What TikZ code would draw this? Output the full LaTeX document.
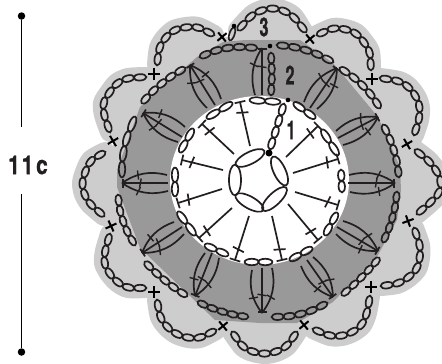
\documentclass[tikz,border=0pt]{standalone}
\usepackage{fontspec}
\usepackage{graphicx}
\setmainfont{TeX Gyre Heros}
\newfontfamily\heavyfont[UprightFont=* Bold,FakeBold=1.2]{TeX Gyre Heros}
\usetikzlibrary{decorations.markings,calc}
\definecolor{ink}{HTML}{231F20}
\definecolor{lobe}{HTML}{CDCDCD}
\definecolor{ringc}{HTML}{999999}
\tikzset{
  inkline/.style={draw=ink,line width=1.7pt},
  teebar/.style={postaction={decorate,decoration={markings,
     mark=at position 0.999 with {\draw[inkline] (0,-5.5pt)--(0,5.5pt);},
     mark=at position 0.76 with {\draw[inkline] (-1pt,-6pt)--(1pt,6pt);}}}},
  tickA/.style={postaction={decorate,decoration={markings,
     mark=at position #1 with {\draw[inkline,line width=1.4pt] (-.8pt,-4.5pt)--(.8pt,4.5pt);}}}},
  tipbar/.style={postaction={decorate,decoration={markings,
     mark=at position 0.015 with {\draw[inkline] (0,-4.5pt)--(0,4.5pt);}}}},
  crossmark/.style={draw=black,line width=2pt},
  numeral/.style={font=\heavyfont\fontsize{26}{26}\selectfont,text=ink,inner sep=0pt},
}
\newcommand\chainlinks[3][3.2]{%
  \pgfmathsetmacro\chStart{0.5/#2}\pgfmathsetmacro\chStep{1/#2}%
  \def\chN{#2}\def\chMinor{#1}%
  \path[decoration={markings,mark=between positions \chStart and 0.999 step \chStep with {%
      \pgfmathsetmacro\chLa{\pgfdecoratedpathlength/(2*\chN)+0.4}%
      \draw[inkline] (0,0) ellipse (\chLa pt and \chMinor pt);}},decorate]
     plot coordinates {#3};}
\newcommand\curvelinks[3][5]{%
  \pgfmathsetmacro\chStart{0.5/#2}\pgfmathsetmacro\chStep{1/#2}%
  \def\chN{#2}\def\chMinor{3.2}%
  \path[rounded corners=#1pt,decoration={markings,mark=between positions \chStart and 0.999 step \chStep with {%
      \pgfmathsetmacro\chLa{\pgfdecoratedpathlength/(2*\chN)+0.4}%
      \draw[inkline,sharp corners] (0,0) ellipse (\chLa pt and \chMinor pt);}},decorate]
     plot coordinates {#3};}
\newcommand\lobeshape[1]{%
  \fill[lobe] plot[smooth] coordinates {#1} -- (259.5,180.5) -- cycle;
  \draw[lobe,line width=20pt,line cap=round,line join=round] plot[smooth] coordinates {#1};}
\newcommand\teest[4]{\path[inkline,teebar] (#1,#2)--(#3,#4);}
% tip, ccw base, centre base, cw base
\newcommand\vgroup[8]{%
  \path[inkline,tipbar,tickA=.4] (#1,#2)--(#5,#6);
  \path[inkline,tickA=.38] (#1,#2) to[bend right=24] (#3,#4);
  \path[inkline,tickA=.38] (#1,#2) to[bend left=24] (#7,#8);}
\newcommand\tiemark[3]{\draw[crossmark,rotate around={#3:(#1,#2)}] (#1-6,#2)--(#1+6,#2) (#1,#2-6)--(#1,#2+6);}
\begin{document}
\begin{tikzpicture}[x=1pt,y=-1pt]
\useasboundingbox (0,0) rectangle (442,364);
% light lobes
\lobeshape{(238,30) (252,15) (262,10) (273,8) (285,11) (294,17) (304,33)}
\lobeshape{(317,35) (333,28) (345,29) (356,33) (364,42) (370,52) (371,70)}
\lobeshape{(380,78) (399,81) (409,87) (417,98) (420,108) (419,120) (414,135)}
\lobeshape{(415,150) (428,160) (436,170) (441,180) (440,192) (430,203) (417,214)}
\lobeshape{(414,228) (420,245) (420,258) (417,269) (408,278) (397,284) (381,286)}
\lobeshape{(370,296) (367,313) (362,325) (353,332) (342,336) (330,336) (313,329)}
\lobeshape{(297,332) (287,346) (276,352) (265,354) (253,352) (243,347) (232,332)}
\lobeshape{(216,330) (200,338) (188,338) (176,334) (167,327) (160,317) (157,300)}
\lobeshape{(146,288) (128,288) (117,282) (109,273) (104,263) (105,251) (110,234)}
\lobeshape{(104,216) (90,204) (84,194) (82,183) (85,172) (91,160) (105,152)}
\lobeshape{(110,132) (104,115) (103,103) (109,93) (117,83) (128,78) (146,77)}
\lobeshape{(157,65) (159,48) (165,38) (174,30) (186,27) (198,27) (214,35)}
\fill[lobe] (222,37)--(310,39)--(372,79)--(407,144)--(408,221)--(371,287)--(304,325)--(223,326)--(154,292)--(111,226)--(113,141)--(154,74)--cycle;
% dark ring and white centre
\fill[ringc] (223,42)--(245,40)--(300,40)--(333,63)--(378,117)--(400,167)--(401,190)--(397,220)--(378,255)--(333,302)--(297,323)--(260,323)--(215,320)--(140,248)--(117,187)--(117,170)--(140,107)--(197,57)--cycle;
\fill[white] (259.5,180.5) ellipse (89.5pt and 84.5pt);
% centre ring
\chainlinks[6]{1}{(236,165) (264,151)}
\chainlinks[6]{1}{(273,157) (286,185)}
\chainlinks[6]{1}{(263,210) (286,188)}
\chainlinks[6]{1}{(236,195) (263,210)}
\chainlinks[6]{1}{(235,165) (235,195)}
% round 1 stitches
\teest{250}{146}{240}{102}
\teest{234}{154}{202}{124}
\teest{223}{170}{182}{160}
\teest{222}{189}{178}{203}
\teest{232}{208}{199}{238}
\teest{249}{216}{235}{260}
\teest{272}{216}{282}{260}
\teest{288}{204}{318}{240}
\teest{295}{192}{338}{205}
\teest{293}{173}{338}{159}
\teest{286}{157}{318}{126}
% round 1 chains
\chainlinks{4}{(270,149) (276,130) (284,104)}
\chainlinks{2}{(294,103) (315,118)}
\chainlinks{2}{(322,130) (338,155)}
\chainlinks{2}{(341,170) (342,192)}
\chainlinks{2}{(337,213) (325,235)}
\chainlinks{2}{(312,248) (290,260)}
\chainlinks{2}{(245,262) (272,262)}
\chainlinks{2}{(205,245) (228,255)}
\chainlinks{2}{(178,212) (195,235)}
\chainlinks{2}{(175,168) (175,196)}
\chainlinks{2}{(193,129) (180,152)}
\chainlinks{2}{(232,103) (207,118)}
\chainlinks{2}{(250,100) (280,102)}
% round 2 groups
\path[inkline,tipbar,tickA=.4] (262,48)--(262,95);
\path[inkline,tickA=.38] (262,48) to[bend right=24] (255,95);
\vgroup{337}{68}{304}{102}{310}{108}{317}{109}
\vgroup{378}{117}{336}{131}{338}{138}{343}{145}
\vgroup{395}{183}{349}{175}{348}{183}{350}{192}
\vgroup{378}{251}{343}{221}{337}{227}{336}{234}
\vgroup{333}{297}{313}{257}{307}{260}{301}{266}
\vgroup{262}{313}{272}{268}{262}{268}{252}{270}
\vgroup{195}{296}{219}{258}{212}{253}{205}{253}
\vgroup{142}{253}{184}{234}{182}{227}{174}{222}
\vgroup{122}{183}{168}{191}{168}{183}{167}{175}
\vgroup{143}{113}{178}{142}{182}{137}{185}{127}
\vgroup{190}{65}{207}{108}{215}{105}{221}{99}
% round 2 chains
\chainlinks{4}{(271,53) (272,75) (271,95)}
\curvelinks[18]{5}{(200,57) (225,46) (257,48)}
\curvelinks[18]{5}{(277,45) (305,48) (333,62)}
\curvelinks[18]{5}{(340,68) (365,85) (380,108)}
\curvelinks[18]{5}{(383,125) (395,148) (399,177)}
\curvelinks[18]{5}{(397,192) (394,218) (383,242)}
\curvelinks[18]{5}{(379,258) (362,278) (342,295)}
\curvelinks[18]{5}{(327,303) (302,316) (272,317)}
\curvelinks[18]{5}{(248,317) (222,313) (198,302)}
\curvelinks[18]{5}{(187,296) (165,282) (145,262)}
\curvelinks[18]{5}{(135,245) (121,222) (118,195)}
\curvelinks[18]{4}{(122,177) (122,150) (135,117)}
\curvelinks[18]{5}{(142,103) (160,83) (185,68)}
% round 3 chains
\chainlinks[2.6]{1}{(230,40) (234,28)}
\curvelinks{7}{(238,30) (252,15) (262,10) (273,8) (285,11) (294,17) (306,32)}
\curvelinks{7}{(317,35) (333,28) (345,29) (356,33) (364,42) (370,52) (371,70)}
\curvelinks{7}{(380,78) (399,81) (409,87) (417,98) (420,108) (419,120) (414,135)}
\curvelinks{7}{(415,150) (428,160) (436,170) (441,180) (440,192) (430,203) (417,214)}
\curvelinks{7}{(414,228) (420,245) (420,258) (417,269) (408,278) (397,284) (381,286)}
\curvelinks{7}{(370,296) (367,313) (362,325) (353,332) (342,336) (330,336) (313,329)}
\curvelinks{7}{(297,332) (287,346) (276,352) (265,354) (253,352) (243,347) (232,332)}
\curvelinks{7}{(216,330) (200,338) (188,338) (176,334) (167,327) (160,317) (157,300)}
\curvelinks{7}{(146,288) (128,288) (117,282) (109,273) (104,263) (105,251) (110,234)}
\curvelinks{7}{(104,216) (90,204) (84,194) (82,183) (85,172) (91,160) (105,152)}
\curvelinks{7}{(110,132) (104,115) (103,103) (109,93) (117,83) (128,78) (146,77)}
\curvelinks{7}{(157,65) (159,48) (165,38) (174,30) (186,27) (198,27) (214,35)}
% ties
\tiemark{222}{37}{40}
\tiemark{310}{39}{40}
\tiemark{372}{79}{0}
\tiemark{407}{144}{30}
\tiemark{408}{221}{20}
\tiemark{371}{287}{0}
\tiemark{304}{325}{40}
\tiemark{223}{326}{40}
\tiemark{154}{292}{0}
\tiemark{111}{226}{25}
\tiemark{113}{141}{30}
\tiemark{154}{74}{0}
% start dots
\fill[black] (269,153) circle (3.5pt);
\foreach \dx/\dy in {288/100,270/46,234/26}{\fill[black] (\dx,\dy) circle (2.3pt);}
% round numbers
\node[numeral] (n1) at (291,130) {\scalebox{.62}[1]{1}};
\node[numeral] (n2) at (290,75) {\scalebox{.62}[1]{2}};
\node[numeral] (n3) at (264,27) {\scalebox{.62}[1]{3}};
% dimension
\node[fill=black,circle,inner sep=0pt,minimum size=7.5pt] (dimtop) at (21.5,16) {};
\node[fill=black,circle,inner sep=0pt,minimum size=7.5pt] (dimbot) at (21.5,352) {};
\node[numeral] (dimtxt) at (28,165) {\scalebox{.8}[1]{1\kern2.5pt1\kern3.5pt c}};
\coordinate (dimup) at (21.5,127);
\coordinate (dimdown) at (21.5,194);
\draw[black,line width=1pt] (dimtop)--(dimup) (dimdown)--(dimbot);
\end{tikzpicture}
\end{document}
